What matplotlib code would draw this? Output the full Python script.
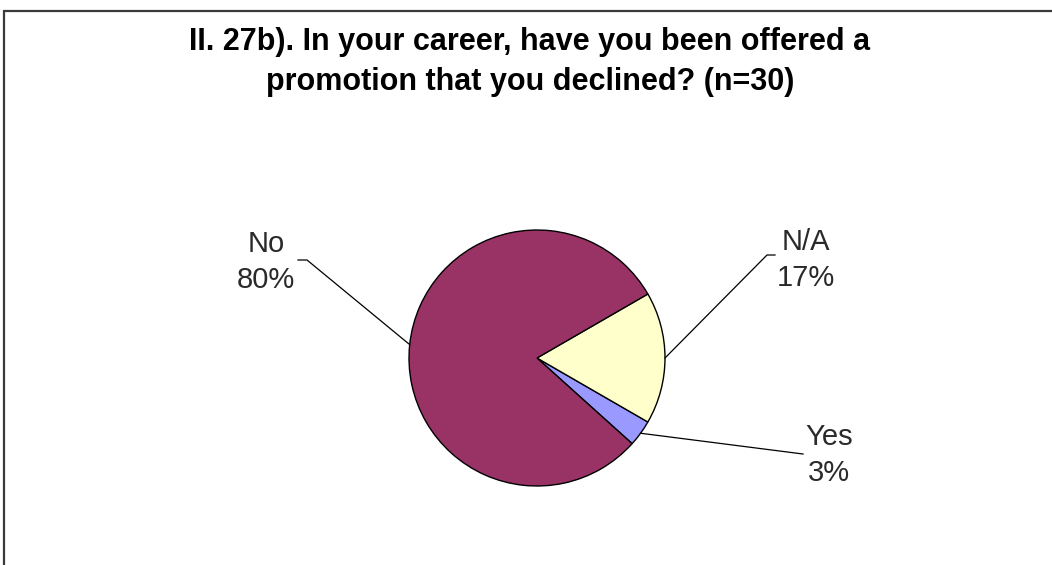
import numpy as np
import matplotlib.pyplot as plt
from matplotlib.patches import Rectangle

# survey answers (n=30)
labels = ["Yes", "N/A", "No"]
counts = [1, 5, 24]
colors = ["#9999FF", "#FFFFCC", "#993366"]

W, H = 1052, 565
fig = plt.figure(figsize=(W / 100, H / 100), dpi=100)
ax = fig.add_axes([0, 0, 1, 1])

cx, cy, r = 537, H - 358, 128
wedges, _ = ax.pie(counts, colors=colors, startangle=-42, counterclock=True,
                   center=(cx, cy), radius=r, frame=True,
                   wedgeprops=dict(edgecolor="black", linewidth=1.0))
ax.set_xlim(0, W)
ax.set_ylim(0, H)
ax.set_aspect("equal")
ax.axis("off")

# chart border (runs off the bottom/right edge)
ax.add_patch(Rectangle((3.5, -20), W + 40, H - 10.5 + 20, fill=False,
                       edgecolor="#3a3a3a", lw=1.6))

title_lines = ["II. 27b). In your career, have you been offered a",
               "promotion that you declined? (n=30)"]
for i, line in enumerate(title_lines):
    ax.text(530, H - 50 - 40 * i, line, ha="center", va="baseline",
            fontsize=22, fontweight="bold", family="Liberation Sans")

pct = [round(100 * c / sum(counts)) for c in counts]
# label position (first baseline) and the elbow of each leader line
label_pos = {"No": (266, H - 252), "N/A": (806, H - 250), "Yes": (829, H - 445)}
elbow = {"No": [(298, H - 260), (307, H - 260)],
         "N/A": [(775, H - 255), (767, H - 255)],
         "Yes": [(803, H - 454)]}

for w, lab, p in zip(wedges, labels, pct):
    mid = np.deg2rad((w.theta1 + w.theta2) / 2)
    px, py = cx + r * np.cos(mid), cy + r * np.sin(mid)
    xs, ys = zip(*(elbow[lab] + [(px, py)]))
    ax.plot(xs, ys, color="black", lw=0.9)
    tx, ty = label_pos[lab]
    for j, s in enumerate([lab, f"{p}%"]):
        ax.text(tx, ty - 36 * j, s, ha="center", va="baseline", fontsize=21,
                family="Liberation Sans", color="#2a2a2a")

fig.savefig("out.png", dpi=100)
